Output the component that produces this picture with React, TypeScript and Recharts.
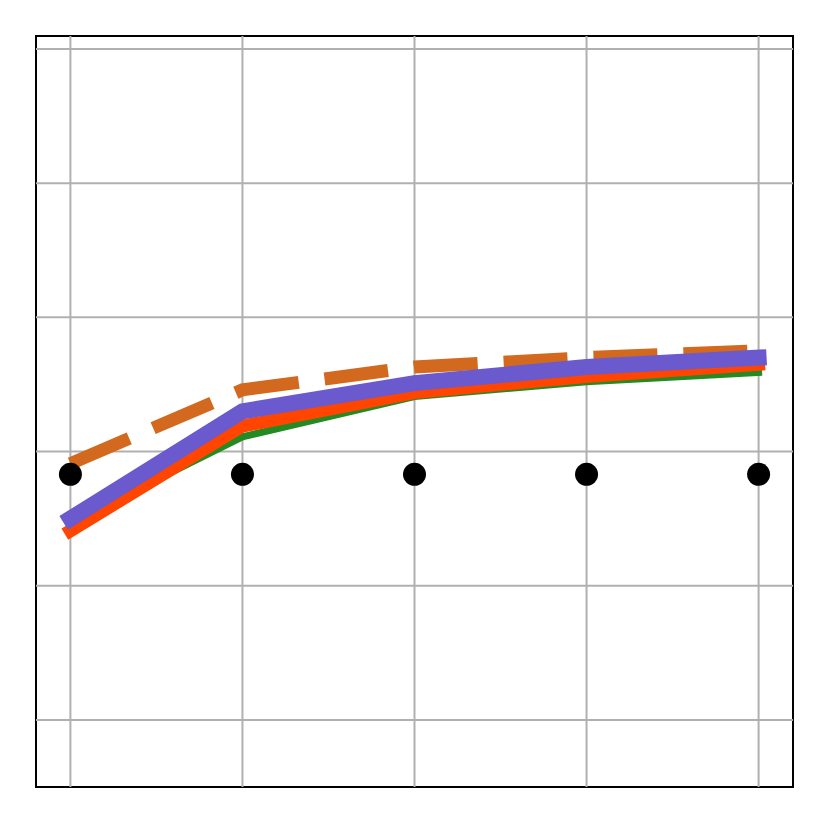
import { LineChart, Line, XAxis, YAxis, ReferenceLine, ReferenceArea } from "recharts";

const steps = [0, 1, 2, 3, 4];
const baseline = [1.83, 1.83, 1.83, 1.83, 1.83];
const dashedSeries = [1.91, 2.46, 2.63, 2.7, 2.75];
const greenSeries = [1.47, 2.11, 2.41, 2.52, 2.59];
const redSeries = [1.41, 2.19, 2.44, 2.56, 2.65];
const purpleSeries = [1.5, 2.3, 2.51, 2.63, 2.7];
const yGrid = [0, 1, 2, 3, 4, 5];

const data = steps.map((s, i) => ({
  x: s,
  base: baseline[i],
  dashed: dashedSeries[i],
  green: greenSeries[i],
  red: redSeries[i],
  purple: purpleSeries[i],
}));

export default function App() {
  return (
    <div style={{ position: "absolute", left: 0, top: 0, background: "#fff" }}>
      <LineChart width={829} height={824} data={data} margin={{ top: 36, right: 36, bottom: 37, left: 36 }}>
        <XAxis dataKey="x" type="number" domain={[-0.2, 4.2]} hide />
        <YAxis type="number" domain={[-0.5, 5.097]} hide />
        {yGrid.map((v) => (
          <ReferenceLine key={`y${v}`} y={v} stroke="#b0b0b0" strokeWidth={2} />
        ))}
        {steps.map((v) => (
          <ReferenceLine key={`x${v}`} x={v} stroke="#b0b0b0" strokeWidth={2} />
        ))}
        <Line dataKey="base" stroke="none" isAnimationActive={false}
          dot={{ r: 11.5, fill: "#000", stroke: "none" }} />
        <Line dataKey="dashed" stroke="#d2691e" strokeWidth={13} strokeDasharray="64 26"
          dot={false} isAnimationActive={false} />
        <Line dataKey="green" stroke="#228b22" strokeWidth={7} strokeLinecap="square"
          dot={false} isAnimationActive={false} />
        <Line dataKey="red" stroke="#ff4500" strokeWidth={13} strokeLinecap="square"
          dot={false} isAnimationActive={false} />
        <Line dataKey="purple" stroke="#6a5acd" strokeWidth={16} strokeLinecap="square"
          dot={false} isAnimationActive={false} />
        <ReferenceArea x1={-0.2} x2={4.2} y1={-0.5} y2={5.097} fill="none" stroke="#000" strokeWidth={2} fillOpacity={0} />
      </LineChart>
    </div>
  );
}
